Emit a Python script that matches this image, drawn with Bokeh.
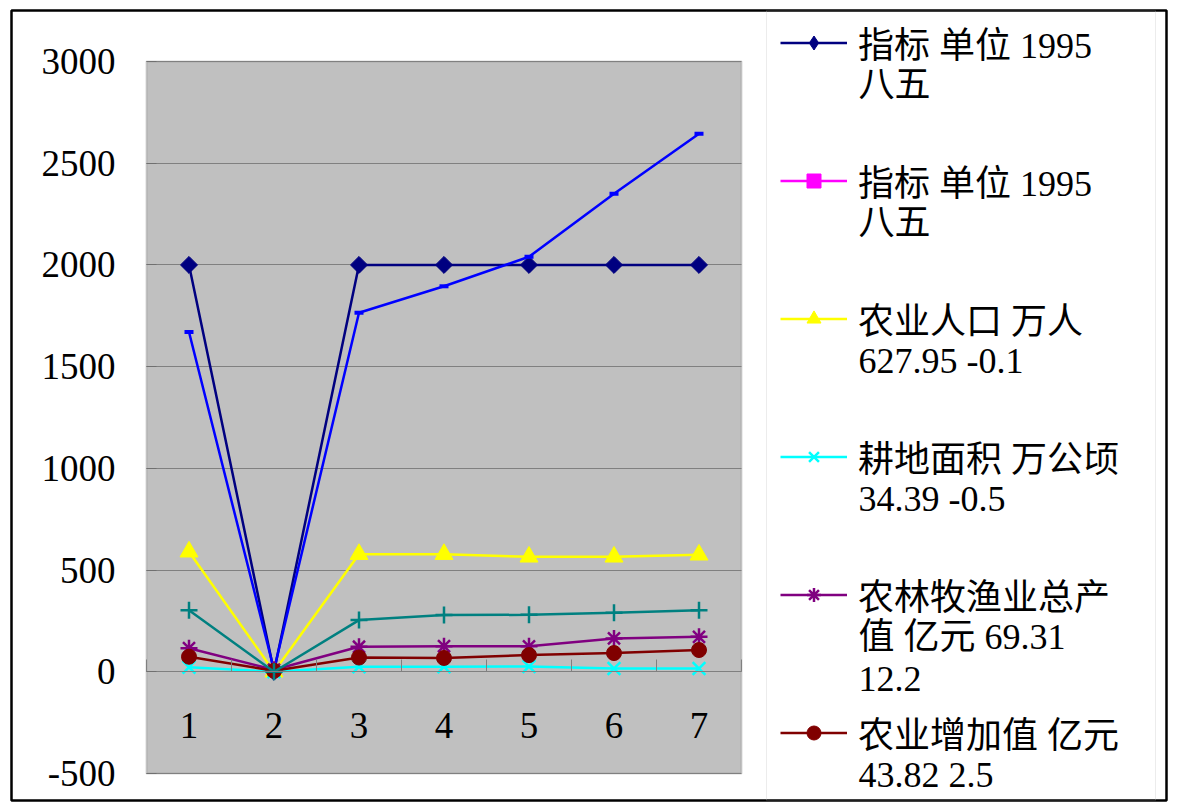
import numpy as np
from bokeh.plotting import figure
from bokeh.models import (Range1d, LinearAxis, FixedTicker, BoxAnnotation, Legend,
                          LegendItem, Grid, Label)
from bokeh.embed import file_html
from bokeh.resources import INLINE

# ---------------- data ----------------
categories = ["1", "2", "3", "4", "5", "6", "7"]
x_pos = [1, 2, 3, 4, 5, 6, 7]

s1_name = "指标 单位 1995\n八五"
s1_vals = [2000, 0, 2000, 2000, 2000, 2000, 2000]

s2_name = "指标 单位 1995\n八五"
s2_vals = [1670, 10, 1765, 1895, 2040, 2350, 2645]

s3_name = "农业人口 万人\n627.95 -0.1"
s3_vals = [590, 0, 578, 578, 565, 565, 575]

s4_name = "耕地面积 万公顷\n34.39 -0.5"
s4_vals = [22, 0, 25, 25, 26, 16, 16]

s5_name = "农林牧渔业总产\n值 亿元 69.31\n12.2"
s5_vals = [116, 10, 123, 126, 125, 164, 172]

s6_name = "农业增加值 亿元\n43.82 2.5"
s6_vals = [74, 5, 70, 68, 82, 92, 107]

s7_vals = [303, 0, 254, 279, 280, 290, 303]

y_ticks = [-500, 0, 500, 1000, 1500, 2000, 2500, 3000]
y_tick_labels = ["-500", "0", "500", "1000", "1500", "2000", "2500", "3000"]

FONT = "Liberation Serif, Noto Sans CJK SC"

# ---------------- layout (pixels) ----------------
W, H = 1186, 811
OL, OR, OT, OB = 11, 1166, 10, 800          # outer chart border (= frame)
PL, PR, PT, PB = 146, 741, 61, 773          # plot area
x0, x1 = 0.5, 7.5
y0, y1 = y_ticks[0], y_ticks[-1]
kx = (PR - PL) / (x1 - x0)
ky = (PB - PT) / (y1 - y0)
xr = Range1d(x0 - (PL - OL) / kx, x1 + (OR - PR) / kx)
yr = Range1d(y0 - (OB - PB) / ky, y1 + (PT - OT) / ky)

p = figure(width=W, height=H, output_backend="svg", toolbar_location=None,
           x_range=xr, y_range=yr,
           x_axis_location=None, y_axis_location=None,
           min_border_left=OL, min_border_right=W - OR,
           min_border_top=OT, min_border_bottom=H - OB)
p.background_fill_color = "white"
p.border_fill_color = "white"
p.outline_line_color = "black"
p.outline_line_width = 2.5
p.xgrid.visible = False
p.ygrid.visible = False

plot_bg = BoxAnnotation(left=x0, right=x1, bottom=y0, top=y1, level="image",
                        fill_color="#C0C0C0", fill_alpha=1,
                        line_color="#808080", line_width=2)
p.add_layout(plot_bg)

yax = LinearAxis(ticker=FixedTicker(ticks=y_ticks), fixed_location=x0, bounds=(y0, y1),
                 major_label_overrides={t: s for t, s in zip(y_ticks, y_tick_labels)})
yax.axis_line_color = None
yax.major_tick_in = 10
yax.major_tick_out = 0
yax.major_tick_line_color = "#707070"
yax.minor_tick_line_color = None
yax.major_label_standoff = 31
yax.major_label_text_font = FONT
yax.major_label_text_font_size = "37px"
yax.major_label_text_color = "black"
p.add_layout(yax, "left")

if "cross_bounds" in Grid.properties():
    yg = Grid(dimension=1, ticker=FixedTicker(ticks=y_ticks), cross_bounds=(x0, x1),
              grid_line_color="#808080", grid_line_width=1)
    p.add_layout(yg)
else:
    p.segment(x0=[x0] * len(y_ticks), x1=[x1] * len(y_ticks), y0=y_ticks, y1=y_ticks,
              line_color="#808080", line_width=1, level="underlay")

xb = LinearAxis(ticker=FixedTicker(ticks=[i + 0.5 for i in range(0, 8)]),
                fixed_location=0, bounds=(x0, x1))
xb.axis_line_color = "#808080"
xb.axis_line_width = 1
xb.major_tick_in = 12
xb.major_tick_out = 0
xb.major_tick_line_color = "#808080"
xb.minor_tick_line_color = None
xb.major_label_text_alpha = 0
xb.major_label_text_font_size = "1px"
p.add_layout(xb, "below")

xl = LinearAxis(ticker=FixedTicker(ticks=x_pos), fixed_location=0, bounds=(x0, x1),
                major_label_overrides={x: c for x, c in zip(x_pos, categories)})
xl.axis_line_color = None
xl.major_tick_line_color = None
xl.minor_tick_line_color = None
xl.major_label_standoff = 35
xl.major_label_text_font = FONT
xl.major_label_text_font_size = "37px"
xl.major_label_text_color = "black"
p.add_layout(xl, "below")

LW = 2.5
r1l = p.line(x_pos, s1_vals, line_color="#000080", line_width=LW)
r1m = p.scatter(x_pos, s1_vals, marker="square", angle=np.pi / 4, size=12,
                fill_color="#000080", line_color="#000080")
# legend swatch marker for series 1 (not drawn in plot)
d1m = p.scatter(x_pos, s1_vals, marker="diamond", size=18, visible=False,
                fill_color="#000080", line_color="#000080")

r2l = p.line(x_pos, s2_vals, line_color="#0000FF", line_width=LW)
r2m = p.scatter(x_pos, s2_vals, marker="dash", size=9, line_width=4, line_color="#0000FF")
# legend swatch for series 2 (magenta line + square, not drawn in plot)
d2l = p.line(x_pos, s2_vals, line_color="#FF00FF", line_width=LW, visible=False)
d2m = p.scatter(x_pos, s2_vals, marker="square", size=12, visible=False,
                fill_color="#FF00FF", line_color="#FF00FF")

r3l = p.line(x_pos, s3_vals, line_color="#FFFF00", line_width=LW)
r3m = p.scatter(x_pos, s3_vals, marker="triangle", size=18,
                fill_color="#FFFF00", line_color="#FFFF00")

r4l = p.line(x_pos, s4_vals, line_color="#00FFFF", line_width=LW)
r4m = p.scatter(x_pos, s4_vals, marker="x", size=18, line_width=2.5, line_color="#00FFFF")

r5l = p.line(x_pos, s5_vals, line_color="#800080", line_width=LW)
r5m = p.scatter(x_pos, s5_vals, marker="asterisk", size=17, line_width=2.5, line_color="#800080")

r6l = p.line(x_pos, s6_vals, line_color="#800000", line_width=LW)
r6m = p.scatter(x_pos, s6_vals, marker="circle", size=15,
                fill_color="#800000", line_color="#800000")

r7l = p.line(x_pos, s7_vals, line_color="#008080", line_width=LW)
r7m = p.scatter(x_pos, s7_vals, marker="cross", size=17, line_width=2.5, line_color="#008080")

# legend frame lines
leg_box = BoxAnnotation(left=766 - OL, right=1155 - OL,
                        left_units="screen", right_units="screen",
                        fill_alpha=0, line_color="#C0C0C0", line_width=1)
p.add_layout(leg_box)

names = [s1_name, s2_name, s3_name, s4_name, s5_name, s6_name]
swatches = [[r1l, d1m], [d2l, d2m], [r3l, r3m], [r4l, r4m], [r5l, r5m], [r6l, r6m]]

ITEM_PITCH = 138      # px between legend entries
LINE_PITCH = 42       # px between wrapped text lines
FIRST_Y = 42          # canvas y of first entry's first line
LBL_H = 60
TEXT_X = 858

legend = Legend(items=[LegendItem(label=n.split("\n")[0], renderers=r)
                       for n, r in zip(names, swatches)])
legend.label_text_font = FONT
legend.label_text_font_size = "36px"
legend.label_text_color = "black"
legend.glyph_width = 67
legend.glyph_height = 35
legend.label_standoff = 11
legend.label_height = LBL_H
legend.spacing = ITEM_PITCH - LBL_H
legend.padding = 0
legend.margin = 0
legend.border_line_color = None
legend.background_fill_alpha = 0
leg_top = FIRST_Y - LBL_H / 2
leg_h = len(names) * LBL_H + (len(names) - 1) * (ITEM_PITCH - LBL_H)
legend.location = (780 - OL, OB - (leg_top + leg_h))
p.add_layout(legend)

# wrapped continuation lines of the legend labels
for i, n in enumerate(names):
    for j, line in enumerate(n.split("\n")[1:], start=1):
        cy = FIRST_Y + ITEM_PITCH * i + LINE_PITCH * j
        p.add_layout(Label(x=TEXT_X - OL, y=OB - cy, x_units="screen", y_units="screen",
                           text=line, text_font=FONT, text_font_size="36px",
                           text_color="black", text_baseline="middle", text_align="left"))

open("out.html", "w").write(file_html(p, INLINE))
